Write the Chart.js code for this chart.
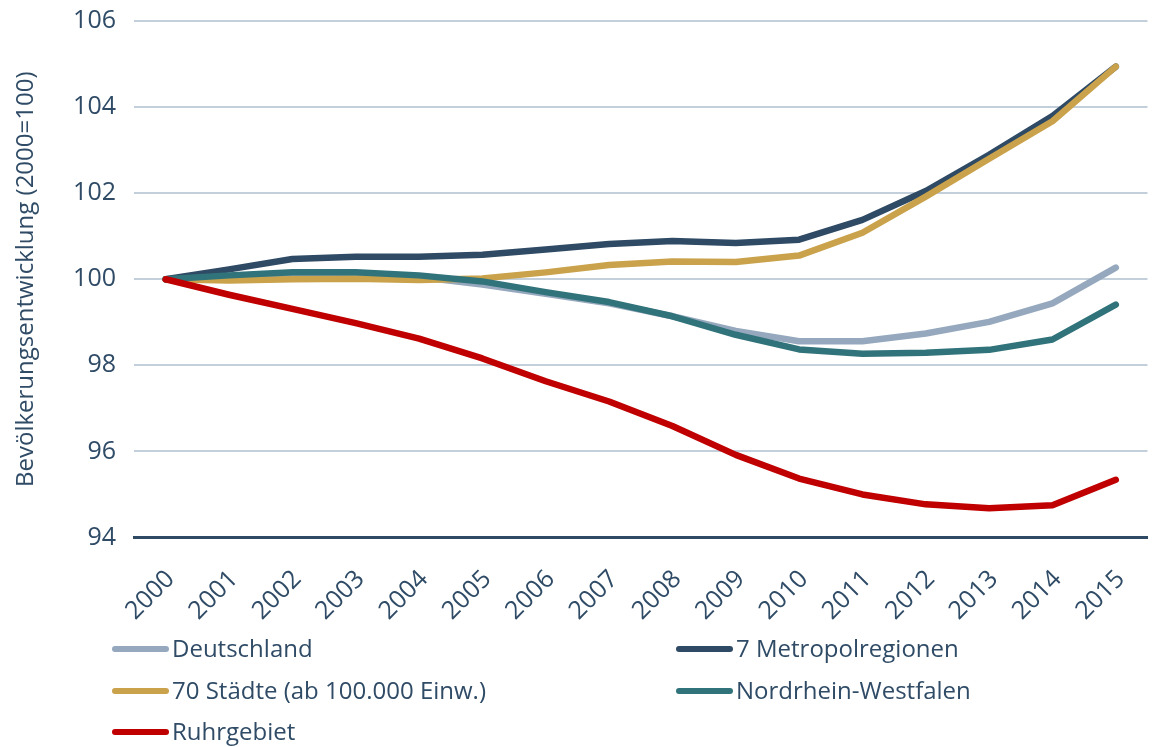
<!DOCTYPE html>
<html>
<head>
<meta charset="utf-8">
<title>Bevölkerungsentwicklung 2000-2015</title>
<script src="https://cdn.jsdelivr.net/npm/chart.js"></script>
<style>
    html, body { margin: 0; padding: 0; background: #fff; overflow: hidden; }
    #wrap { position: relative; width: 1164px; height: 747px; }
    #legend { position: absolute; left: 0; top: 0; width: 1155px; height: 747px; pointer-events: none;
              font-family: "Open Sans", sans-serif; font-size: 24px; color: #2F4B66; }
    .item { position: absolute; height: 30px; line-height: 30px; white-space: nowrap; }
    .swatch { position: absolute; top: 12px; width: 57px; height: 6px; border-radius: 3px; }
    .label { position: absolute; left: 60px; top: -1px; }
</style>
</head>
<body>
<div id="wrap">
    <canvas id="chart" width="1164" height="747"></canvas>
    <div id="legend"></div>
</div>

<script>
    const years = ['2000', '2001', '2002', '2003', '2004', '2005', '2006', '2007',
                   '2008', '2009', '2010', '2011', '2012', '2013', '2014', '2015'];

    const deutschland = [100, 100.07, 100.13, 100.13, 100.05, 99.88, 99.66, 99.44,
                         99.14, 98.80, 98.56, 98.56, 98.74, 99.01, 99.44, 100.27];
    const metropolregionen = [100, 100.23, 100.47, 100.52, 100.52, 100.57, 100.69, 100.82,
                              100.89, 100.84, 100.92, 101.38, 102.05, 102.89, 103.79, 104.94];
    const staedte70 = [100, 99.97, 100.0, 100.01, 99.98, 100.02, 100.16, 100.33,
                       100.41, 100.40, 100.55, 101.08, 101.92, 102.80, 103.67, 104.94];
    const nrw = [100, 100.09, 100.16, 100.16, 100.09, 99.95, 99.70, 99.47,
                 99.14, 98.71, 98.37, 98.27, 98.29, 98.36, 98.60, 99.41];
    const ruhrgebiet = [100, 99.64, 99.31, 98.98, 98.62, 98.16, 97.63, 97.16,
                        96.59, 95.92, 95.37, 95.00, 94.77, 94.68, 94.75, 95.34];

    const yTicks = [94, 96, 98, 100, 102, 104, 106];

    const textColor = '#2F4B66';
    const gridColor = '#C3CFDB';

    // Legende: Reihenfolge wie im Original (zwei Spalten)
    const legendItems = [
        { text: 'Deutschland', color: '#95A8BD', x: 112, y: 634 },
        { text: '7 Metropolregionen', color: '#2F4A64', x: 676, y: 634 },
        { text: '70 Städte (ab 100.000 Einw.)', color: '#C9A24B', x: 112, y: 676 },
        { text: 'Nordrhein-Westfalen', color: '#31737A', x: 676, y: 676 },
        { text: 'Ruhrgebiet', color: '#C00000', x: 112, y: 717 }
    ];

    const legendDiv = document.getElementById('legend');
    legendItems.forEach(item => {
        const el = document.createElement('div');
        el.className = 'item';
        el.style.left = item.x + 'px';
        el.style.top = item.y + 'px';
        el.innerHTML = '<span class="swatch" style="background:' + item.color + '"></span>' +
                       '<span class="label">' + item.text + '</span>';
        legendDiv.appendChild(el);
    });

    function line(label, data, color, order) {
        return {
            label: label,
            data: data,
            borderColor: color,
            backgroundColor: color,
            borderWidth: 6.5,
            borderCapStyle: 'round',
            borderJoinStyle: 'round',
            pointRadius: 0,
            tension: 0,
            fill: false,
            order: order
        };
    }

    new Chart(document.getElementById('chart'), {
        type: 'line',
        data: {
            labels: years,
            datasets: [
                line('Deutschland', deutschland, '#95A8BD', 5),
                line('7 Metropolregionen', metropolregionen, '#2F4A64', 4),
                line('70 Städte (ab 100.000 Einw.)', staedte70, '#C9A24B', 3),
                line('Nordrhein-Westfalen', nrw, '#31737A', 2),
                line('Ruhrgebiet', ruhrgebiet, '#C00000', 1)
            ]
        },
        options: {
            responsive: false,
            animation: false,
            layout: { padding: { top: 21, left: 0, right: 0, bottom: 0 } },
            plugins: {
                legend: { display: false },
                tooltip: { enabled: false }
            },
            scales: {
                x: {
                    offset: true,
                    grid: { display: false, drawTicks: false },
                    border: { display: true, color: '#2F4A64', width: 3 },
                    ticks: {
                        color: textColor,
                        font: { family: 'Open Sans', size: 25 },
                        minRotation: 45,
                        maxRotation: 45,
                        padding: 27,
                        labelOffset: 5,
                        autoSkip: false
                    },
                    afterFit: scale => { scale.height = 209.5; }
                },
                y: {
                    min: 94,
                    max: 106,
                    afterBuildTicks: scale => { scale.ticks = yTicks.map(v => ({ value: v })); },
                    grid: {
                        drawTicks: false,
                        lineWidth: 2,
                        color: ctx => ctx.tick && ctx.tick.value === 94 ? 'rgba(0,0,0,0)' : gridColor
                    },
                    border: { display: false },
                    ticks: {
                        color: textColor,
                        font: { family: 'Open Sans', size: 25 },
                        padding: 18
                    },
                    title: {
                        display: true,
                        text: 'Bevölkerungsentwicklung (2000=100)',
                        color: textColor,
                        font: { family: 'Open Sans', size: 24 },
                        padding: { top: 12, bottom: 0 }
                    },
                    afterFit: scale => {
                        scale.width = 134;
                        scale.paddingTop = 0;
                        scale.paddingBottom = 0;
                    }
                }
            }
        }
    });
</script>
</body>
</html>
